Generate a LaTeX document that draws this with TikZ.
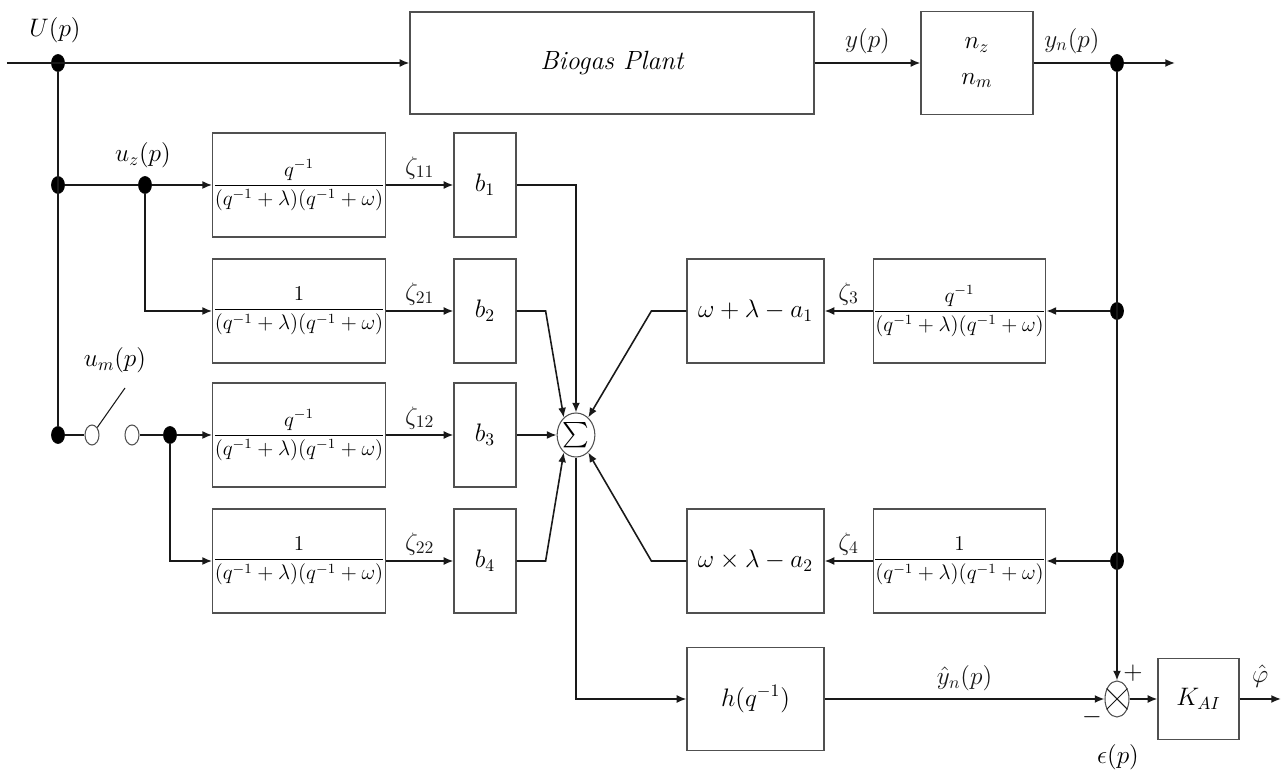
\documentclass[tikz,border=0pt]{standalone}
\usepackage{tikz}
\usepackage{xcolor}
\usepackage{amsmath}
\usetikzlibrary{arrows.meta, shapes.geometric, positioning, calc}
\definecolor{bgray}{RGB}{ 80, 80, 80}
\definecolor{lblk} {RGB}{ 25, 25, 25}
\newcommand{\lbfont}{\fontsize{14.5}{17}\selectfont}
\newcommand{\frfont}{\fontsize{11.5}{14}\selectfont}
\tikzset{
  % Plain block
  BL/.style={rectangle,draw=bgray,minimum width=#1,minimum height=2.08cm,
             align=center,font=\lbfont,inner sep=2pt,line width=0.7pt},
  BL/.default=1.24cm,
  % Filter block with a fraction
  FB/.style={rectangle,draw=bgray,minimum width=#1,minimum height=2.08cm,
             font=\frfont,inner sep=0pt,line width=0.7pt},
  FB/.default=3.44cm,
  % Junction dot
  JD/.style={ellipse,draw=black,fill=black,inner sep=0pt,
             minimum width=0.26cm,minimum height=0.34cm},
  % Open switch contact
  SC/.style={ellipse,draw=bgray,fill=white,inner sep=0pt,line width=0.6pt,
             minimum width=0.28cm,minimum height=0.40cm},
  % Summing / comparing junction
  SJ/.style={ellipse,draw=bgray,inner sep=0pt,line width=0.6pt,
             font=\lbfont,minimum width=#1,minimum height=0.88cm},
  SJ/.default=0.70cm,
  % Signal label
  LB/.style={font=\lbfont,inner sep=1pt},
  % Arrows and plain lines
  Arr/.style={-{Latex[length=5.5pt,width=4.5pt]},line width=0.9pt,color=lblk},
  Ln/.style ={line width=0.9pt,color=lblk},
}
\begin{document}
\begin{tikzpicture}
        \useasboundingbox (0,0) rectangle (25.68,15.56);
        % Plant and measurement noise
        \node[BL=8.08cm,minimum height=2.04cm] at (12.24,14.30) (plant)
              {\fontsize{15}{18}\selectfont\itshape Biogas Plant};
        \node[BL=2.24cm,minimum height=2.06cm] at (19.54,14.30) (nois)
              {$n_z$\\[3pt]$n_m$};
        % Input filters
        \node[FB] at (5.98,11.86) (g1)
              {$\dfrac{q^{-1}}{(q^{-1}+\lambda)(q^{-1}+\omega)}$};
        \node[FB] at (5.98, 9.34) (g2)
              {$\dfrac{1}{(q^{-1}+\lambda)(q^{-1}+\omega)}$};
        \node[FB] at (5.98, 6.86) (g3)
              {$\dfrac{q^{-1}}{(q^{-1}+\lambda)(q^{-1}+\omega)}$};
        \node[FB] at (5.98, 4.34) (g4)
              {$\dfrac{1}{(q^{-1}+\lambda)(q^{-1}+\omega)}$};
        % Gains
        \node[BL] at (9.70,11.86) (b1) {$b_1$};
        \node[BL] at (9.70, 9.34) (b2) {$b_2$};
        \node[BL] at (9.70, 6.86) (b3) {$b_3$};
        \node[BL] at (9.70, 4.34) (b4) {$b_4$};
        \node[SJ] at (11.52,6.86) (sum) {$\sum$};
        % Output filters
        \node[BL=2.74cm] at (15.11,9.34) (a1) {$\omega+\lambda-a_1$};
        \node[BL=2.74cm] at (15.11,4.34) (a2) {$\omega\times\lambda-a_2$};
        \node[FB=3.30cm] at (19.19,9.34) (g5)
              {$\dfrac{q^{-1}}{(q^{-1}+\lambda)(q^{-1}+\omega)}$};
        \node[FB=3.30cm] at (19.19,4.34) (g6)
              {$\dfrac{1}{(q^{-1}+\lambda)(q^{-1}+\omega)}$};
        % Model and estimator
        \node[BL=2.74cm,minimum height=2.06cm] at (15.11,1.58) (h)
              {$h(q^{-1})$};
        \node[SJ=0.48cm,minimum height=0.72cm] at (22.34,1.58) (mult) {};
        \draw[Ln,line width=0.6pt] (mult.45) -- (mult.225)
              (mult.135) -- (mult.315);
        \node[BL=1.62cm,minimum height=1.62cm] at (23.97,1.58) (kai)
              {$K_{AI}$};
        % Junctions and switch
        \coordinate (in) at (0.14,14.30);
        \node[JD] at (1.16,14.30) (d0) {};
        \node[JD] at (1.16,11.86) (d1) {};
        \node[JD] at (2.90,11.86) (d2) {};
        \node[JD] at (1.16, 6.86) (d3) {};
        \node[SC] at (1.84, 6.86) (s1) {};
        \node[SC] at (2.64, 6.86) (s2) {};
        \coordinate (lev) at (2.50,7.80);
        \node[JD] at (3.40, 6.86) (d4) {};
        \node[JD] at (22.34,14.30) (d5) {};
        \node[JD] at (22.34, 9.34) (d6) {};
        \node[JD] at (22.34, 4.34) (d7) {};
        \coordinate (yout)  at (23.50,14.30);
        \coordinate (phout) at (25.62,1.58);
        % Signal labels
        \node[LB] at (1.10,14.96) (up) {$U(p)$};
        \node[LB] at (2.86,12.46) (uz) {$u_z(p)$};
        \node[LB] at (2.30, 8.36) (um) {$u_m(p)$};
        \node[LB] at (22.66,2.10) (pl) {$+$};
        \node[LB] at (21.84,1.22) (mi) {$-$};
        \node[LB] at (22.36,0.42) (eps) {$\epsilon(p)$};
        % Top path
        \draw[Arr] (in) -- (plant);
        \draw[Arr] (plant) -- node[LB,above=4pt]{$y(p)$} (nois);
        \draw[Ln] (nois) -- node[LB,above=4pt]{$y_n(p)$} (d5);
        \draw[Arr] (d5) -- (yout);
        % Input branches
        \draw[Ln] (d0) -- (d3);
        \draw[Ln] (d1) -- (d2);
        \draw[Arr] (d2) -- (g1);
        \draw[Arr] (d2) |- (g2);
        \draw[Ln] (d3) -- (s1);
        \draw[Ln,line width=0.6pt] (s1) -- (lev);
        \draw[Ln] (s2) -- (d4);
        \draw[Arr] (d4) -- (g3);
        \draw[Arr] (d4) |- (g4);
        \foreach \src/\dst/\idx in {g1/b1/11,g2/b2/21,g3/b3/12,g4/b4/22}
          \draw[Arr] (\src) -- node[LB,above=2pt]{$\zeta_{\idx}$} (\dst);
        % Into the sum
        \draw[Arr] (b1) -| (sum);
        \draw[Arr] (b2.east) -- ++(0.58,0) -- (sum.125);
        \draw[Arr] (b3) -- (sum);
        \draw[Arr] (b4.east) -- ++(0.58,0) -- (sum.235);
        \draw[Arr] (a1.west) -- ++(-0.70,0) -- (sum.55);
        \draw[Arr] (a2.west) -- ++(-0.70,0) -- (sum.305);
        % Output feedback
        \draw[Arr] (g5) -- node[LB,above=2pt]{$\zeta_3$} (a1);
        \draw[Arr] (g6) -- node[LB,above=2pt]{$\zeta_4$} (a2);
        \draw[Arr] (d6) -- (g5);
        \draw[Arr] (d7) -- (g6);
        \draw[Arr] (d5) -- (mult);
        % Estimate and error
        \draw[Arr] (sum) |- (h);
        \draw[Arr] (h) -- node[LB,above=3pt]{$\hat{y}_n(p)$} (mult);
        \draw[Arr] (mult) -- (kai);
        \draw[Arr] (kai) -- node[LB,above=5pt]{$\hat{\varphi}$} (phout);
      \end{tikzpicture}
\end{document}
